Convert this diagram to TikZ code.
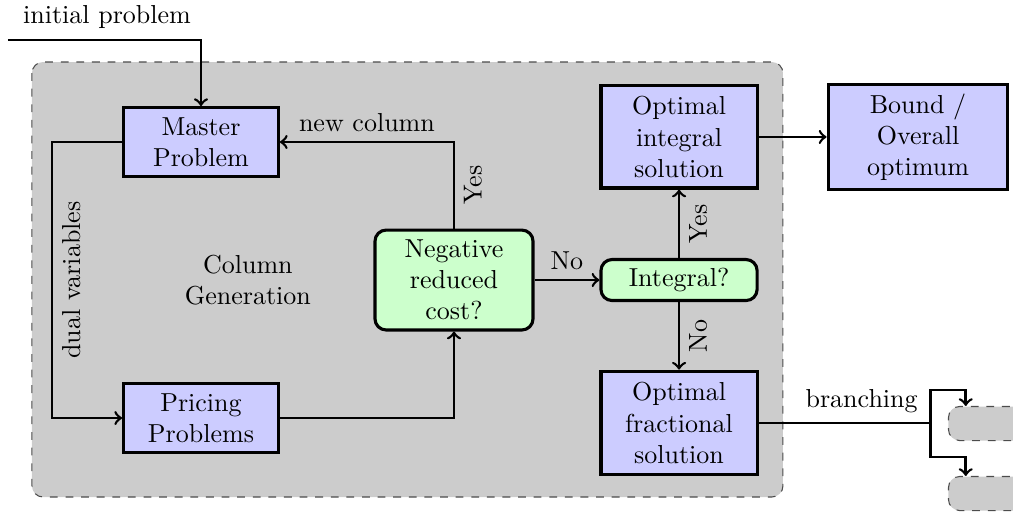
\documentclass[tikz,border=0pt]{standalone}
\usepackage{amsmath}
\usepackage{tikz}
\usetikzlibrary{calc, arrows}

\begin{document}
\begin{tikzpicture}
  [line width=1pt,
   blk/.style={draw, line width=1.2pt, fill=blue!20, minimum width=2.09cm, align=center},
   dec/.style={draw, line width=1.2pt, fill=green!20, rounded corners=1.5mm, minimum width=2.11cm, align=center},
   sub/.style={draw=black!70, thin, dashed, fill=black!20, rounded corners=1.5mm,
               minimum width=1.4cm, minimum height=0.46cm, anchor=north west},
   vlbl/.style={anchor=north, rotate=90}]
  \useasboundingbox (0,0) rectangle (13.689,-6.919);
  % column generation
  \draw[thin, dashed, black!70, fill=black!20, rounded corners=1.5mm]
  (0.432,-0.838) rectangle (10.58,-6.716);
  \node[blk, minimum height=0.93cm] (master) at (2.716,-1.919) {Master\\Problem};
  \node[blk, minimum height=0.93cm] (pricing) at (2.716,-5.649) {Pricing\\Problems};
  \node[dec, minimum width=2.135cm, minimum height=1.35cm] (negcost) at (6.135,-3.784) {Negative\\reduced\\cost?};
  \node[align=center] (colgen) at (3.35,-3.78) {Column\\Generation};
  % integrality
  \node[dec, minimum height=0.53cm] (integral) at (9.176,-3.784) {Integral?};
  \node[blk, minimum width=2.11cm, minimum height=1.38cm] (optint) at (9.176,-1.851) {Optimal\\integral\\solution};
  \node[blk, minimum width=2.11cm, minimum height=1.40cm] (optfrac) at (9.176,-5.716) {Optimal\\fractional\\solution};
  \node[blk, minimum width=2.43cm, minimum height=1.43cm] (bound) at (12.405,-1.851) {Bound /\\Overall\\optimum};
  % branching
  \node[sub] (childa) at (12.81,-5.486) {};
  \node[sub] (childb) at (12.81,-6.432) {};
  \coordinate (split) at (12.57,-5.716);
  \coordinate (start) at (0.108,-0.54);
  \node (initlbl) at (1.446,-0.23) {initial problem};
  % edges
  \draw[->] (start) -| (master);
  \draw[->] (master.west) -- ++(-0.946,0) |- (pricing.west)
  node[vlbl, pos=0.25] {dual variables};
  \draw[->] (pricing.east) -| (negcost.south);
  \draw[->] (negcost.north) |- (master.east)
  node[vlbl, pos=0.25] {Yes}
  node[above, pos=0.75] {new column};
  \draw[->] (negcost) -- node[above] {No} (integral);
  \draw[->] (integral) -- node[vlbl] {Yes} (optint);
  \draw[->] (integral) -- node[vlbl] {No} (optfrac);
  \draw[->] (optint) -- (bound);
  \draw (optfrac.east) -- node[above, pos=0.6] {branching} (split);
  \draw[->] (split) -- ++(0,0.446) -| ($(childa.north west)+(0.24,0)$);
  \draw[->] (split) -- ++(0,-0.46) -| ($(childb.north west)+(0.24,0)$);
\end{tikzpicture}
\end{document}
